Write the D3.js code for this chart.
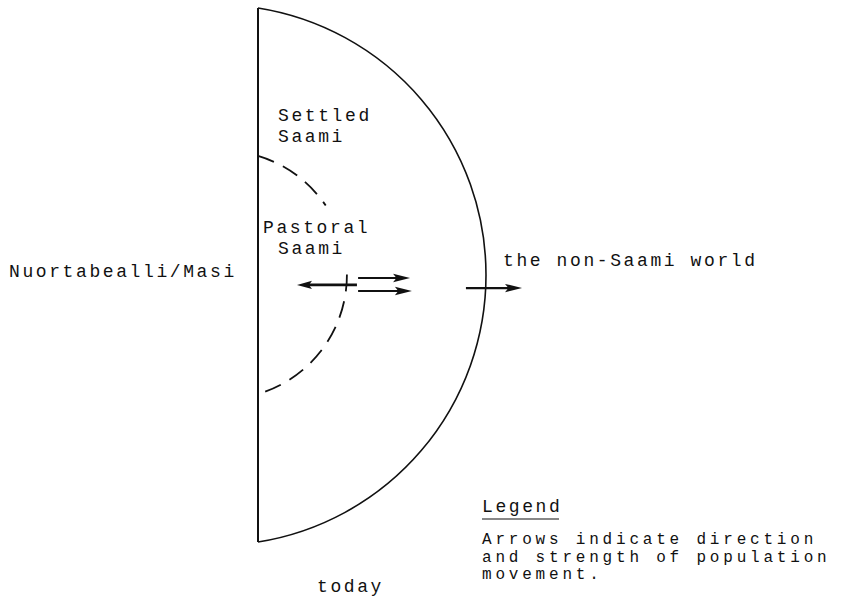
<!DOCTYPE html>
<html>
<head>
<meta charset="utf-8">
<script src="https://cdn.jsdelivr.net/npm/d3@7"></script>
<style>
  html, body { margin: 0; padding: 0; background: #fff; }
  #chart { width: 844px; height: 601px; }
  text { font-family: "Liberation Mono", "DejaVu Sans Mono", monospace; font-size: 18px; letter-spacing: 2.6px; fill: #111; }
  text.ll { font-size: 16px; letter-spacing: 3.8px; }
</style>
</head>
<body>
<div id="chart"></div>
<script>
// zones, in diagram units: 0 = the Nuortabealli/Masi line, 100 = edge of the Saami world
const zoneNames  = ['Settled Saami', 'Pastoral Saami'];
const zoneReach  = [100, 39];     // how far out each zone bulges
const zoneSpan   = [100, 44.6];   // half height of each zone
// parts of the pastoral boundary that are drawn (in y units), the rest is left open for the label
const pastoralSegments = [[44.6, 26], [0.2, -44.6]];

// arrows: direction and strength of population movement
const arrowFrom     = [43.4, 43.9, 43.9, 91.2];
const arrowTo       = [17.1, 66.7, 67.5, 115.8];
const arrowLevel    = [-3.7, -1.1, -6.0, -4.9];
const arrowStrength = [2.6, 2.1, 2.1, 2.2];

const placeLeft  = 'Nuortabealli/Masi';
const placeRight = 'the non-Saami world';
const timeLabel  = 'today';
const legendTitle = 'Legend';
const legendLines = ['Arrows indicate direction', 'and strength of population', 'movement.'];

;(function(){
  const W = 844, H = 601;
  const svg = d3.select('#chart').append('svg')
    .attr('width', W).attr('height', H)
    .attr('viewBox', `0 0 ${W} ${H}`);

  const x = d3.scaleLinear().domain([0, 100]).range([258, 486]);
  const y = d3.scaleLinear().domain([-100, 100]).range([542, 8]);

  // circle through (0, +span), (reach, 0), (0, -span)
  function bulge(reach, span) {
    const s = x(reach) - x(0), c = y(0) - y(span);
    const R = (s*s + c*c) / (2*s);
    return {cx: x(reach) - R, cy: y(0), R};
  }
  function arcPath(reach, span, yTop, yBot) {
    const b = bulge(reach, span);
    const a0 = Math.asin((y(yTop) - b.cy) / b.R);
    const a1 = Math.asin((y(yBot) - b.cy) / b.R);
    const p = d3.path();
    p.moveTo(b.cx + b.R*Math.cos(a0), b.cy + b.R*Math.sin(a0));
    p.arc(b.cx, b.cy, b.R, a0, a1, false);
    return p.toString();
  }

  const g = svg.append('g');

  // outer boundary
  g.append('path')
    .attr('d', arcPath(zoneReach[0], zoneSpan[0], zoneSpan[0], -zoneSpan[0]))
    .attr('fill', 'none').attr('stroke', '#111').attr('stroke-width', 1.6);

  // pastoral boundary, dashed
  pastoralSegments.forEach(([a, b]) => {
    g.append('path')
      .attr('d', arcPath(zoneReach[1], zoneSpan[1], a, b))
      .attr('fill', 'none').attr('stroke', '#111').attr('stroke-width', 1.8)
      .attr('stroke-dasharray', '17,10');
  });

  // the Nuortabealli/Masi line
  g.append('line')
    .attr('x1', x(0)).attr('x2', x(0))
    .attr('y1', y(zoneSpan[0])).attr('y2', y(-zoneSpan[0]))
    .attr('stroke', '#111').attr('stroke-width', 2);

  // arrows
  const arrows = arrowFrom.map((f, i) => ({from: f, to: arrowTo[i], level: arrowLevel[i], w: arrowStrength[i]}));
  const ag = g.selectAll('.arrow').data(arrows).enter().append('g').attr('class', 'arrow');
  ag.each(function(d){
    const dir = Math.sign(d.to - d.from);
    const x0 = x(d.from), x1 = x(d.to), yy = y(d.level);
    const headL = dir < 0 ? 15 : 17, headW = 4.2;
    d3.select(this).append('line')
      .attr('x1', x0).attr('x2', x1 - dir*headL*0.6)
      .attr('y1', yy).attr('y2', yy)
      .attr('stroke', '#111').attr('stroke-width', d.w);
    d3.select(this).append('path')
      .attr('d', `M${x1},${yy}L${x1 - dir*headL},${yy - headW}L${x1 - dir*headL*0.8},${yy}L${x1 - dir*headL},${yy + headW}Z`)
      .attr('fill', '#111');
  });

  // zone labels
  const zl = zoneNames.map(n => n.split(' '));
  const labelPos = [[x(0)+20, 121], [x(0)+5, 233]];
  zl.forEach((words, i) => {
    const t = g.append('text').attr('x', labelPos[i][0]).attr('y', labelPos[i][1]);
    t.append('tspan').attr('x', labelPos[i][0]).text(words[0]);
    t.append('tspan').attr('x', x(0)+20).attr('dy', 21).text(words[1]);
  });

  g.append('text').attr('x', 9).attr('y', 277).text(placeLeft);
  g.append('text').attr('x', 503).attr('y', 266).text(placeRight);
  g.append('text').attr('x', 317).attr('y', 592).text(timeLabel);

  const lg = g.append('g').attr('transform', 'translate(482,0)');
  lg.append('text').attr('x', 0).attr('y', 512).text(legendTitle);
  lg.append('line').attr('x1', 0).attr('x2', 77).attr('y1', 519).attr('y2', 519)
    .attr('stroke', '#111').attr('stroke-width', 1.2);
  lg.selectAll('.ll').data(legendLines).enter().append('text')
    .attr('class', 'll')
    .attr('x', 0)
    .attr('y', (d, i) => 544 + i*17.5)
    .text(d => d);
})();
</script>
</body>
</html>
